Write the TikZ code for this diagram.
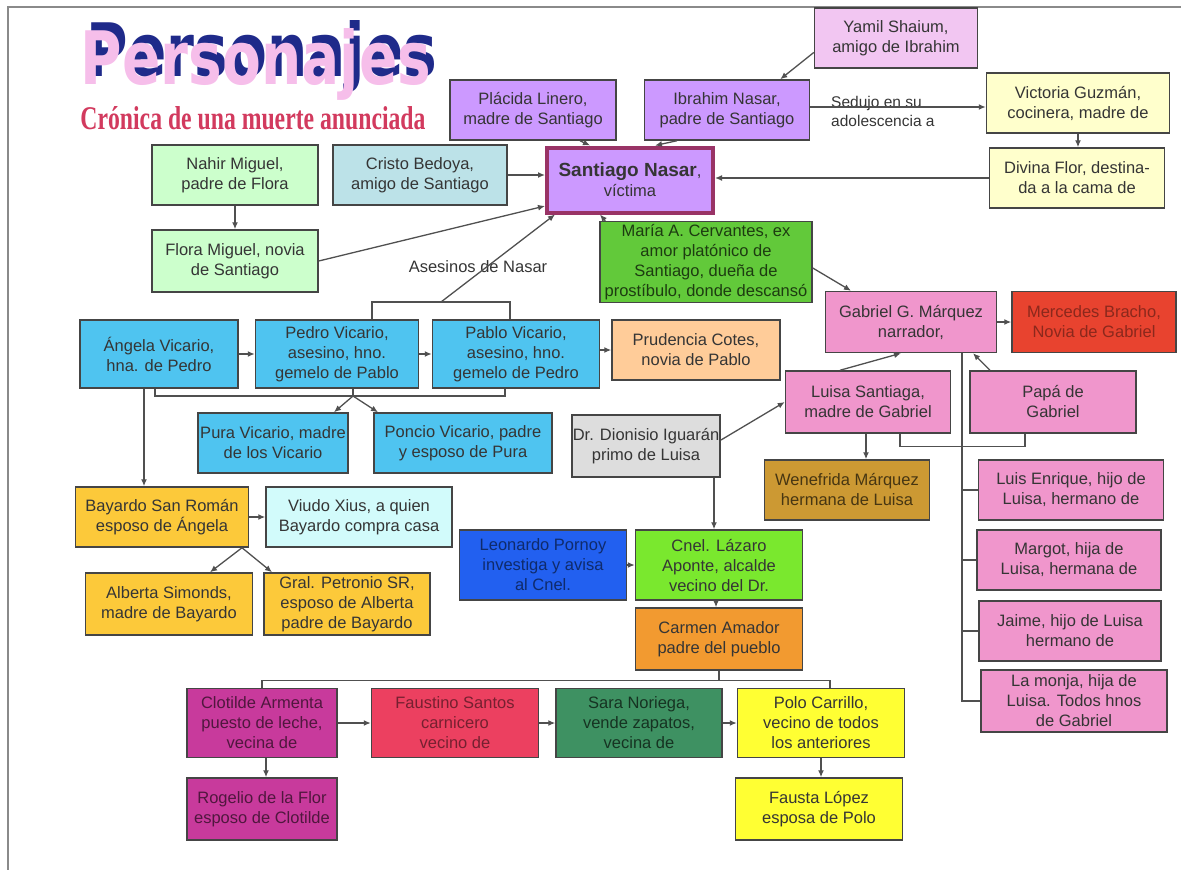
\documentclass[tikz,border=0pt]{standalone}
\usepackage{fontspec}
\setmainfont{Liberation Sans}
\newfontfamily\titlefont{DejaVu Sans}
\newfontfamily\subtitlefont{Liberation Serif}
\usepackage{xcolor}
\usepackage{graphicx}
\usepackage{tikz}
\usetikzlibrary{arrows.meta, calc}
\definecolor{boxline}{HTML}{454545}
\definecolor{linkgray}{HTML}{505050}
\definecolor{textgray}{HTML}{353535}
\definecolor{framegray}{HTML}{8A8A8A}
\definecolor{titlepink}{HTML}{F6BEEA}
\definecolor{titlenavy}{HTML}{1F2A8A}
\definecolor{subred}{HTML}{D23A5E}
\definecolor{lilac}{HTML}{CC99FF}
\definecolor{palelilac}{HTML}{F2C6F2}
\definecolor{plum}{HTML}{993366}
\definecolor{cream}{HTML}{FFFFCC}
\definecolor{paleteal}{HTML}{BCE2E8}
\definecolor{mint}{HTML}{CCFFCC}
\definecolor{grass}{HTML}{62C93A}
\definecolor{rosa}{HTML}{F096CC}
\definecolor{tomato}{HTML}{E8432F}
\definecolor{sky}{HTML}{4FC4F0}
\definecolor{peach}{HTML}{FFCC99}
\definecolor{silver}{HTML}{DDDDDD}
\definecolor{ochre}{HTML}{CC9933}
\definecolor{gold}{HTML}{FCC93A}
\definecolor{icecyan}{HTML}{D2FBFB}
\definecolor{royal}{HTML}{2260F0}
\definecolor{lime}{HTML}{7AE82E}
\definecolor{tangerine}{HTML}{F29A30}
\definecolor{magenta}{HTML}{C83A9C}
\definecolor{cherry}{HTML}{EC4060}
\definecolor{pine}{HTML}{3E9162}
\definecolor{lemon}{HTML}{FFFF33}
\newcommand{\titleword}{\resizebox{350pt}{56pt}{Personajes}}
\tikzstyle{person} = [rectangle, minimum width=166pt, minimum height=60pt, inner sep=1pt, align=center, draw=boxline, line width=1.5pt, text=textgray, font=\fontsize{16.5}{20}\selectfont]
\tikzstyle{arrow} = [line width=1.3pt, draw=linkgray, -{Latex[length=7pt,width=6pt]}]
\tikzstyle{link} = [line width=1.3pt, draw=linkgray]

\begin{document}
\begin{tikzpicture}[x=1pt, y=-1pt]
    \useasboundingbox (0,0) rectangle (1181,870);
    \draw[framegray, line width=1.5pt] (8,870) -- (8,7) -- (1181,7);

    \node[anchor=base, inner sep=0pt, font=\titlefont\bfseries] (title) at (256,84) {\makebox[0pt][l]{\hspace*{6pt}\raisebox{7pt}{\textcolor{titlenavy}{\titleword}}}\textcolor{titlepink}{\titleword}};
    \node[text=subred, font=\subtitlefont\bfseries] (subtitle) at (253,118) {\resizebox{345pt}{23pt}{Crónica de una muerte anunciada}};

    \node[person, fill=palelilac, minimum width=163pt] (yamil) at (896,38) {Yamil Shaium,\\amigo de Ibrahim};
    \node[person, fill=lilac] (placida) at (533,110) {Plácida Linero,\\madre de Santiago};
    \node[person, fill=lilac, minimum width=165pt] (ibrahim) at (727,110) {Ibrahim Nasar,\\padre de Santiago};
    \node[person, fill=cream, minimum width=183pt] (victoria) at (1078,103) {Victoria Guzmán,\\cocinera, madre de};
    \node[person, fill=cream, minimum width=175pt] (divina) at (1077,178) {Divina Flor, destina-\\da a la cama de};
    \node[person, fill=lilac, draw=plum, line width=4pt, minimum height=65pt] (santiago) at (630,180) {{\fontsize{19}{22}\selectfont\bfseries Santiago Nasar},\\víctima};
    \node[person, fill=paleteal, minimum width=174pt] (cristo) at (420,175) {Cristo Bedoya,\\amigo de Santiago};
    \node[person, fill=mint] (nahir) at (235,175) {Nahir Miguel,\\padre de Flora};
    \node[person, fill=mint, minimum height=62pt] (flora) at (235,261) {Flora Miguel, novia\\de Santiago};
    \node[person, fill=grass, text=grass!30!black, minimum width=212pt, minimum height=81pt] (maria) at (706,262) {María A. Cervantes, ex\\amor platónico de\\Santiago, dueña de\\prostíbulo, donde descansó};
    \node[person, fill=rosa, minimum width=171pt, minimum height=61pt] (gabriel) at (911,322) {Gabriel G. Márquez\\narrador,};
    \node[person, fill=tomato, text=tomato!60!black, minimum width=164pt, minimum height=61pt] (mercedes) at (1094,322) {Mercedes Bracho,\\Novia de Gabriel};

    \node[person, fill=sky, minimum width=158pt, minimum height=68pt] (angela) at (159,354) {Ángela Vicario,\\hna. de Pedro};
    \node[person, fill=sky, minimum width=163pt, minimum height=68pt] (pedro) at (337,354) {Pedro Vicario,\\asesino, hno.\\gemelo de Pablo};
    \node[person, fill=sky, minimum width=167pt, minimum height=68pt] (pablo) at (516,354) {Pablo Vicario,\\asesino, hno.\\gemelo de Pedro};
    \node[person, fill=peach, minimum width=168pt] (prudencia) at (696,350) {Prudencia Cotes,\\novia de Pablo};
    \node[person, fill=sky, minimum width=150pt] (pura) at (273,443) {Pura Vicario, madre\\de los Vicario};
    \node[person, fill=sky, minimum width=178pt] (poncio) at (463,443) {Poncio Vicario, padre\\y esposo de Pura};
    \node[person, fill=silver, minimum width=147pt, minimum height=62pt] (dionisio) at (646,446) {Dr. Dionisio Iguarán\\primo de Luisa};
    \node[person, fill=rosa, minimum width=165pt, minimum height=62pt] (luisa) at (868,402) {Luisa Santiaga,\\madre de Gabriel};
    \node[person, fill=rosa, minimum height=62pt] (papa) at (1053,402) {Papá de\\Gabriel};
    \node[person, fill=ochre, text=ochre!35!black, minimum width=165pt] (wenefrida) at (847,490) {Wenefrida Márquez\\hermana de Luisa};
    \node[person, fill=rosa, minimum width=185pt] (luisenr) at (1071,490) {Luis Enrique, hijo de\\Luisa, hermano de};
    \node[person, fill=rosa, minimum width=184pt] (margot) at (1069,560) {Margot, hija de\\Luisa, hermana de};
    \node[person, fill=rosa, minimum width=182pt] (jaime) at (1070,631) {Jaime, hijo de Luisa\\hermano de};
    \node[person, fill=rosa, minimum width=186pt, minimum height=62pt] (monja) at (1074,701) {La monja, hija de\\Luisa. Todos hnos\\de Gabriel};

    \node[person, fill=gold, minimum width=173pt] (bayardo) at (162,517) {Bayardo San Román\\esposo de Ángela};
    \node[person, fill=icecyan, minimum width=186pt] (viudo) at (359,517) {Viudo Xius, a quien\\Bayardo compra casa};
    \node[person, fill=gold, minimum width=167pt, minimum height=62pt] (alberta) at (169,604) {Alberta Simonds,\\madre de Bayardo};
    \node[person, fill=gold, minimum height=62pt] (gral) at (347,604) {Gral. Petronio SR,\\esposo de Alberta\\padre de Bayardo};

    \node[person, fill=royal, text=royal!45!black, minimum width=167pt, minimum height=70pt] (leonardo) at (543,565) {Leonardo Pornoy\\investiga y avisa\\al Cnel.};
    \node[person, fill=lime, minimum width=167pt, minimum height=70pt] (cnel) at (719,565) {Cnel. Lázaro\\Aponte, alcalde\\vecino del Dr.};
    \node[person, fill=tangerine, minimum width=167pt, minimum height=62pt] (carmen) at (719,639) {Carmen Amador\\padre del pueblo};

    \node[person, fill=magenta, text=magenta!40!black, minimum width=150pt, minimum height=69pt] (clotilde) at (262,723) {Clotilde Armenta\\puesto de leche,\\vecina de};
    \node[person, fill=cherry, text=cherry!50!black, minimum width=167pt, minimum height=69pt] (faustino) at (455,723) {Faustino Santos\\carnicero\\vecino de};
    \node[person, fill=pine, text=pine!35!black, minimum height=69pt] (sara) at (639,723) {Sara Noriega,\\vende zapatos,\\vecina de};
    \node[person, fill=lemon, minimum width=167pt, minimum height=69pt] (polo) at (821,723) {Polo Carrillo,\\vecino de todos\\los anteriores};
    \node[person, fill=magenta, text=magenta!40!black, minimum width=150pt, minimum height=62pt] (rogelio) at (262,809) {Rogelio de la Flor\\esposo de Clotilde};
    \node[person, fill=lemon, minimum width=167pt, minimum height=62pt] (fausta) at (819,809) {Fausta López\\esposa de Polo};

    \node[anchor=north west, align=left, inner sep=0pt, text=textgray, font=\fontsize{15.5}{19}\selectfont] (sedujo) at (831,96) {Sedujo en su\\adolescencia a};
    \node[text=textgray, font=\fontsize{16.5}{20}\selectfont] (asesinoslabel) at (478,267) {Asesinos de Nasar};

    \draw[arrow] (yamil.190) -- (ibrahim.30);
    \draw[arrow] ([xshift=47pt]placida.south) -- ([xshift=-40pt]santiago.north);
    \draw[arrow] ([xshift=-50pt]ibrahim.south) -- ([xshift=25pt]santiago.north);
    \draw[arrow] ($(ibrahim.east)+(0,-3)$) -- ($(ibrahim.east -| victoria.west)+(0,-3)$);
    \draw[arrow] (victoria.south) -- (victoria.south |- divina.north);
    \draw[arrow] (divina.west) -- (divina.west -| santiago.east);
    \draw[arrow] (cristo.east) -- (cristo.east -| santiago.west);
    \draw[arrow] (nahir.south) -- (flora.north);
    \draw[arrow] (flora.east) -- (santiago.197);
    \coordinate (asesinos) at (441,302);
    \draw[link] ([xshift=35pt]pedro.north) |- (asesinos) -| ([xshift=-6pt]pablo.north);
    \draw[arrow] (asesinos) -- ([xshift=-75pt]santiago.south);
    \draw[arrow] ([xshift=6pt]maria.north west) -- ([xshift=-30pt]santiago.south);
    \draw[arrow] ([yshift=-6pt]maria.east) -- ([xshift=-60pt]gabriel.north);
    \draw[arrow] (gabriel.east) -- (mercedes.west);
    \draw[arrow] ([xshift=-28pt]luisa.north) -- ([xshift=-10pt]gabriel.south);
    \draw[arrow] ([xshift=-63pt]papa.north) -- ([xshift=62pt]gabriel.south);
    \draw[link] ([xshift=32pt]luisa.south) -- ++(0,13) -| ([xshift=-28pt]papa.south);
    \coordinate (hnos) at ([xshift=51pt]gabriel.south);
    \draw[link] (hnos) |- (monja.west);
    \foreach \h in {luisenr, margot, jaime}
        \draw[link] (\h.west) -- (\h.west -| hnos);
    \draw[arrow] ([yshift=6pt]dionisio.east) -- (luisa.west);
    \draw[arrow] ([xshift=-2pt]luisa.south) -- ($(luisa.south |- wenefrida.north)+(-2,0)$);
    \draw[arrow] ([xshift=68pt]dionisio.south) -- ($(dionisio.south |- cnel.north)+(68,0)$);
    \draw[arrow] (leonardo.east) -- (cnel.west);
    \draw[arrow] ([xshift=-3pt]cnel.south) -- ($(cnel.south |- carmen.north)+(-3,0)$);
    \coordinate (vecinos) at ($(carmen.south)+(0,10)$);
    \draw[link] (carmen.south) -- (vecinos);
    \draw[link] (clotilde.north) |- (vecinos) -| ([xshift=9pt]polo.north);
    \draw[arrow] (clotilde.east) -- (faustino.west);
    \draw[arrow] (faustino.east) -- (sara.west);
    \draw[arrow] (sara.east) -- (polo.west);
    \draw[arrow] ([xshift=4pt]clotilde.south) -- ($(clotilde.south |- rogelio.north)+(4,0)$);
    \draw[arrow] (polo.south) -- (polo.south |- fausta.north);
    \draw[arrow] (angela.east) -- (pedro.west);
    \draw[arrow] (pedro.east) -- (pablo.west);
    \draw[arrow] (pablo.east |- prudencia.west) -- (prudencia.west);
    \coordinate (hijos) at (353,396);
    \draw[link] ([xshift=-4pt]angela.south) |- (hijos) -| ([xshift=-11pt]pablo.south);
    \draw[link] ([xshift=16pt]pedro.south) -- (hijos);
    \draw[arrow] (hijos) -- ([xshift=61pt]pura.north);
    \draw[arrow] (hijos) -- ([xshift=-85pt]poncio.north);
    \draw[arrow] ([xshift=-15pt]angela.south) -- ($(angela.south |- bayardo.north)+(-15,0)$);
    \draw[arrow] (bayardo.east) -- (viudo.west);
    \draw[arrow] ([xshift=80pt]bayardo.south) -- ([xshift=41pt]alberta.north);
    \draw[arrow] ([xshift=80pt]bayardo.south) -- ([xshift=-75pt]gral.north);
\end{tikzpicture}
\end{document}
